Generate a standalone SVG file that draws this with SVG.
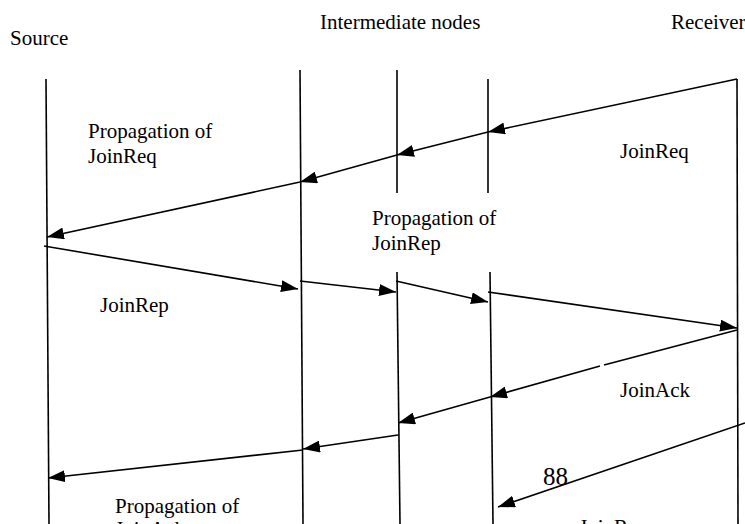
<svg xmlns="http://www.w3.org/2000/svg" width="745" height="524" viewBox="0 0 745 524">
<style>
  text { font-family: "Liberation Serif", "Times New Roman", "DejaVu Serif", serif; font-size: 21px; fill: #000; }
  .life { stroke: #000; stroke-width: 1.6; fill: none; }
  .msg { stroke: #000; stroke-width: 1.6; fill: none; }
  .arr { marker-end: url(#ah); }
</style>
<defs>
  <marker id="ah" markerUnits="userSpaceOnUse" markerWidth="18" markerHeight="12" refX="17" refY="6" orient="auto">
    <path d="M0,0 L17,6 L0,12 Z" fill="#000"/>
  </marker>
</defs>
<rect width="745" height="524" fill="#fff"/>
<g id="source">
  <line class="life" x1="46" y1="79" x2="49" y2="524"/>
  <text x="10" y="45">Source</text>
</g>
<g id="intermediate">
  <line class="life" x1="300" y1="70" x2="303" y2="524"/>
  <line class="life" x1="397" y1="70" x2="397" y2="193"/>
  <line class="life" x1="397" y1="272" x2="400" y2="524"/>
  <line class="life" x1="488" y1="79" x2="488" y2="193"/>
  <line class="life" x1="490" y1="272" x2="493" y2="524"/>
  <text x="320" y="29">Intermediate nodes</text>
</g>
<g id="receiver">
  <line class="life" x1="737" y1="79" x2="738" y2="524"/>
  <text x="671" y="29">Receiver</text>
</g>
<g id="connectors">
  <line class="msg arr" x1="737" y1="79" x2="488" y2="132"/>
  <line class="msg arr" x1="488" y1="132" x2="397" y2="155"/>
  <line class="msg arr" x1="397" y1="155" x2="300" y2="182"/>
  <line class="msg arr" x1="300" y1="182" x2="47" y2="237"/>
  <line class="msg arr" x1="44" y1="246" x2="298" y2="289"/>
  <line class="msg arr" x1="300" y1="281" x2="396" y2="292"/>
  <line class="msg arr" x1="396" y1="281" x2="488" y2="302"/>
  <line class="msg arr" x1="488" y1="292" x2="737" y2="328"/>
  <line class="msg" x1="737" y1="330" x2="604" y2="365"/>
  <line class="msg arr" x1="600" y1="366" x2="490" y2="397"/>
  <line class="msg arr" x1="490" y1="397" x2="398" y2="423"/>
  <line class="msg arr" x1="398" y1="435" x2="303" y2="449"/>
  <line class="msg arr" x1="303" y1="450" x2="48" y2="478"/>
  <line class="msg arr" x1="745" y1="423" x2="498" y2="507"/>
</g>
<g id="labels">
  <text x="88" y="138">Propagation of</text>
  <text x="88" y="163">JoinReq</text>
  <text x="620" y="158">JoinReq</text>
  <text x="372" y="225">Propagation of</text>
  <text x="372" y="250">JoinRep</text>
  <text x="100" y="312">JoinRep</text>
  <text x="620" y="397">JoinAck</text>
  <text x="543" y="485" style="font-size:25px">88</text>
  <text x="115" y="513">Propagation of</text>
  <text x="115" y="536">JoinAck</text>
  <text x="579" y="534">JoinReq</text>
</g>
</svg>
